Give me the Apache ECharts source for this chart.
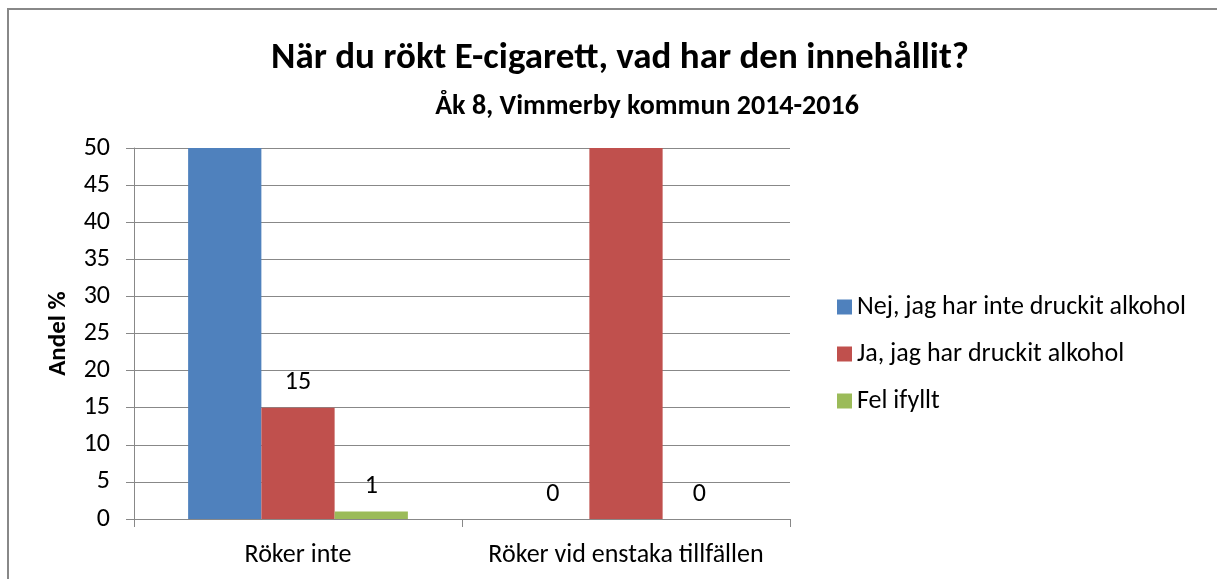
<!DOCTYPE html>
<html>
<head>
<meta charset="utf-8">
<script src="https://cdn.jsdelivr.net/npm/echarts@6/dist/echarts.min.js"></script>
<style>
  html, body { margin: 0; padding: 0; background: #fff; }
  #chart { width: 1217px; height: 579px; }
</style>
</head>
<body>
<div id="chart"></div>
<script>
const categories = ["Röker inte", "Röker vid enstaka tillfällen"];
const seriesNames = ["Nej, jag har inte druckit alkohol", "Ja, jag har druckit alkohol", "Fel ifyllt"];
// staplar över 50 klipps av axeln, deras värden syns inte i bilden
const nejValues = [84, 0];
const jaValues = [15, 100];
const felValues = [1, 0];
const yTicks = [0, 5, 10, 15, 20, 25, 30, 35, 40, 45, 50];

const font = "Carlito, Calibri, 'Noto Sans', sans-serif";
const colors = ["#4F81BD", "#C0504D", "#9BBB59"];

const chart = echarts.init(document.getElementById("chart"));

// etiketter döljs för staplar som går över axelns max
function withLabels(values) {
  return values.map(v => ({
    value: v,
    label: { show: v <= yTicks[yTicks.length - 1] }
  }));
}

function barSeries(name, values, color) {
  return {
    name: name,
    type: "bar",
    data: withLabels(values),
    barGap: "0%",
    barCategoryGap: "33%",
    itemStyle: { color: color },
    label: {
      position: "top",
      distance: 12,
      color: "#000",
      fontFamily: font,
      fontSize: 26
    }
  };
}

const option = {
  animation: false,
  backgroundColor: "#fff",
  color: colors,
  title: [
    {
      text: "När du rökt E-cigarett, vad har den innehållit?",
      left: 615,
      textAlign: "center",
      top: 35,
      textStyle: { fontFamily: font, fontWeight: "bold", fontSize: 37, color: "#000" }
    },
    {
      text: "Åk 8, Vimmerby kommun 2014-2016",
      left: 642,
      textAlign: "center",
      top: 88,
      textStyle: { fontFamily: font, fontWeight: "bold", fontSize: 28, color: "#000" }
    }
  ],
  legend: {
    orient: "vertical",
    left: 832,
    top: 289,
    itemWidth: 15,
    itemHeight: 15,
    itemGap: 21,
    icon: "rect",
    textStyle: { fontFamily: font, fontSize: 26, color: "#000" },
    data: seriesNames
  },
  grid: {
    left: 134,
    right: 1217 - 790,
    top: 148,
    bottom: 579 - 519,
    containLabel: false
  },
  xAxis: {
    type: "category",
    data: categories,
    axisLine: { lineStyle: { color: "#888", width: 1 } },
    axisTick: { show: true, length: 8, lineStyle: { color: "#888" } },
    axisLabel: { interval: 0, fontFamily: font, fontSize: 26, color: "#000", margin: 23 }
  },
  yAxis: {
    type: "value",
    min: 0,
    max: 50,
    interval: 5,
    name: "Andel %",
    nameLocation: "middle",
    nameGap: 63,
    nameTextStyle: { fontFamily: font, fontWeight: "bold", fontSize: 25, color: "#000" },
    axisLine: { show: true, lineStyle: { color: "#888", width: 1 } },
    axisTick: { show: true, length: 8, lineStyle: { color: "#888" } },
    splitLine: { lineStyle: { color: "#888", width: 1 } },
    axisLabel: { fontFamily: font, fontSize: 26, color: "#000", margin: 24 }
  },
  graphic: [
    { type: "line", shape: { x1: 7, y1: 9, x2: 1217, y2: 9 }, style: { stroke: "#888", lineWidth: 2 } },
    { type: "line", shape: { x1: 8, y1: 9, x2: 8, y2: 579 }, style: { stroke: "#888", lineWidth: 2 } }
  ],
  series: [
    barSeries(seriesNames[0], nejValues, colors[0]),
    barSeries(seriesNames[1], jaValues, colors[1]),
    barSeries(seriesNames[2], felValues, colors[2])
  ]
};

chart.setOption(option);
</script>
</body>
</html>
